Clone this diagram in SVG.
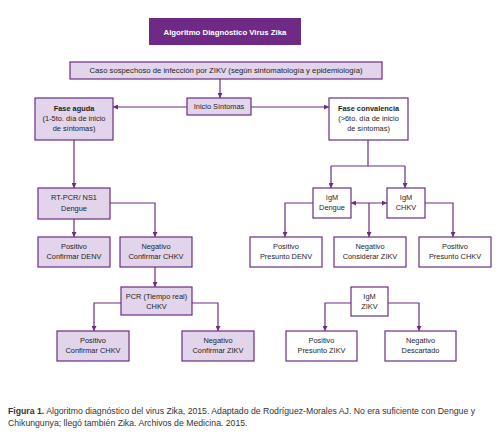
<svg xmlns="http://www.w3.org/2000/svg" width="501" height="432" viewBox="0 0 501 432">
<style>
  text{font-family:"Liberation Sans",Arial,sans-serif;font-size:7.4px;fill:#1e1e1e;text-anchor:middle}
  .box{stroke:#6b2d82;stroke-width:1.2}
  .lt{fill:#e2d4eb}
  .wt{fill:#fff}
  .b{font-weight:bold}
  .title{fill:#fff;font-weight:bold;font-size:7.8px}
  .caso{font-size:7.7px}
  .cap{text-anchor:start;font-size:8.7px;fill:#333}
  .con path{fill:none;stroke:#6b2d82;stroke-width:1.2}
</style>
<defs>
  <marker id="ah" viewBox="0 0 10 10" refX="10" refY="5" markerWidth="5" markerHeight="5" markerUnits="userSpaceOnUse" orient="auto-start-reverse">
    <path d="M0,0 L10,5 L0,10 z" fill="#6b2d82"/>
  </marker>
</defs>
<rect width="501" height="432" fill="#fff"/>

<g class="con">
  <path d="M220,79 V98" marker-end="url(#ah)"/>
  <path d="M187,107 H113" marker-end="url(#ah)"/>
  <path d="M251,107 H329" marker-end="url(#ah)"/>
  <path d="M74,140 V188" marker-end="url(#ah)"/>
  <path d="M74,219 V237" marker-end="url(#ah)"/>
  <path d="M110,203 H155 V237" marker-end="url(#ah)"/>
  <path d="M155,267 V287" marker-end="url(#ah)"/>
  <path d="M121,303 H94 V331" marker-end="url(#ah)"/>
  <path d="M192,303 H218 V331" marker-end="url(#ah)"/>
  <path d="M368,140 V166"/>
  <path d="M331,166 H405"/>
  <path d="M331,166 V188" marker-end="url(#ah)"/>
  <path d="M405,166 V188" marker-end="url(#ah)"/>
  <path d="M351,203 H387" marker-start="url(#ah)" marker-end="url(#ah)"/>
  <path d="M369,203 V237" marker-end="url(#ah)"/>
  <path d="M313,203 H285 V237" marker-end="url(#ah)"/>
  <path d="M425,203 H453 V237" marker-end="url(#ah)"/>
  <path d="M351,303 H325 V331" marker-end="url(#ah)"/>
  <path d="M388,303 H419 V331" marker-end="url(#ah)"/>
</g>

<g id="title">
  <rect x="149" y="18" width="152" height="27" fill="#6f2a86"/>
  <text class="title" x="225" y="34.5">Algoritmo Diagnóstico Virus Zika</text>
</g>
<g id="caso">
  <rect class="box lt" x="70" y="62" width="312" height="17"/>
  <text class="caso" x="226" y="73.2">Caso sospechoso de infección por ZIKV (según sintomatología y epidemiología)</text>
</g>
<g id="inicio">
  <rect class="box lt" x="187" y="98" width="64" height="17"/>
  <text x="219" y="109">Inicio Síntomas</text>
</g>
<g id="aguda">
  <rect class="box lt" x="35" y="98" width="78" height="42"/>
  <text class="b" x="74" y="111">Fase aguda</text>
  <text x="74" y="121">(1-5to. día de inicio</text>
  <text x="74" y="131">de síntomas)</text>
</g>
<g id="convalencia">
  <rect class="box wt" x="329" y="98" width="79" height="42"/>
  <text class="b" x="368.5" y="111">Fase convalencia</text>
  <text x="368.5" y="121">(&gt;6to. día de inicio</text>
  <text x="368.5" y="131">de síntomas)</text>
</g>
<g id="rtpcr">
  <rect class="box lt" x="38" y="188" width="72" height="31"/>
  <text x="74" y="200">RT-PCR/ NS1</text>
  <text x="74" y="211">Dengue</text>
</g>
<g id="pos-denv">
  <rect class="box lt" x="38" y="237" width="72" height="30"/>
  <text x="74" y="249">Positivo</text>
  <text x="74" y="259">Confirmar DENV</text>
</g>
<g id="neg-chkv">
  <rect class="box lt" x="120" y="237" width="72" height="30"/>
  <text x="156" y="249">Negativo</text>
  <text x="156" y="259">Confirmar CHKV</text>
</g>
<g id="pcr">
  <rect class="box lt" x="121" y="287" width="71" height="28"/>
  <text x="156.5" y="299">PCR (Tiempo real)</text>
  <text x="156.5" y="309">CHKV</text>
</g>
<g id="pos-chkv">
  <rect class="box lt" x="57" y="331" width="72" height="30"/>
  <text x="93" y="343">Positivo</text>
  <text x="93" y="353">Confirmar CHKV</text>
</g>
<g id="neg-zikv">
  <rect class="box lt" x="182" y="331" width="72" height="30"/>
  <text x="218" y="343">Negativo</text>
  <text x="218" y="353">Confirmar ZIKV</text>
</g>
<g id="igm-dengue">
  <rect class="box wt" x="313" y="188" width="38" height="30"/>
  <text x="332" y="200">IgM</text>
  <text x="332" y="210">Dengue</text>
</g>
<g id="igm-chkv">
  <rect class="box wt" x="387" y="188" width="38" height="30"/>
  <text x="406" y="200">IgM</text>
  <text x="406" y="210">CHKV</text>
</g>
<g id="pres-denv">
  <rect class="box wt" x="250" y="237" width="72" height="30"/>
  <text x="286" y="249">Positivo</text>
  <text x="286" y="259">Presunto DENV</text>
</g>
<g id="cons-zikv">
  <rect class="box wt" x="334" y="237" width="72" height="30"/>
  <text x="370" y="249">Negativo</text>
  <text x="370" y="259">Considerar ZIKV</text>
</g>
<g id="pres-chkv">
  <rect class="box wt" x="419" y="237" width="72" height="30"/>
  <text x="455" y="249">Positivo</text>
  <text x="455" y="259">Presunto CHKV</text>
</g>
<g id="igm-zikv">
  <rect class="box wt" x="351" y="287" width="37" height="29"/>
  <text x="369.5" y="299">IgM</text>
  <text x="369.5" y="309">ZIKV</text>
</g>
<g id="pres-zikv">
  <rect class="box wt" x="286" y="331" width="71" height="30"/>
  <text x="321.5" y="343">Positivo</text>
  <text x="321.5" y="353">Presunto ZIKV</text>
</g>
<g id="descartado">
  <rect class="box wt" x="385" y="331" width="71" height="30"/>
  <text x="420.5" y="343">Negativo</text>
  <text x="420.5" y="353">Descartado</text>
</g>

<text class="cap" x="8" y="414"><tspan font-weight="bold">Figura 1.</tspan> Algoritmo diagnóstico del virus Zika, 2015. Adaptado de Rodríguez-Morales AJ. No era suficiente con Dengue y</text>
<text class="cap" x="8" y="426">Chikungunya; llegó también Zika. Archivos de Medicina. 2015.</text>
</svg>
